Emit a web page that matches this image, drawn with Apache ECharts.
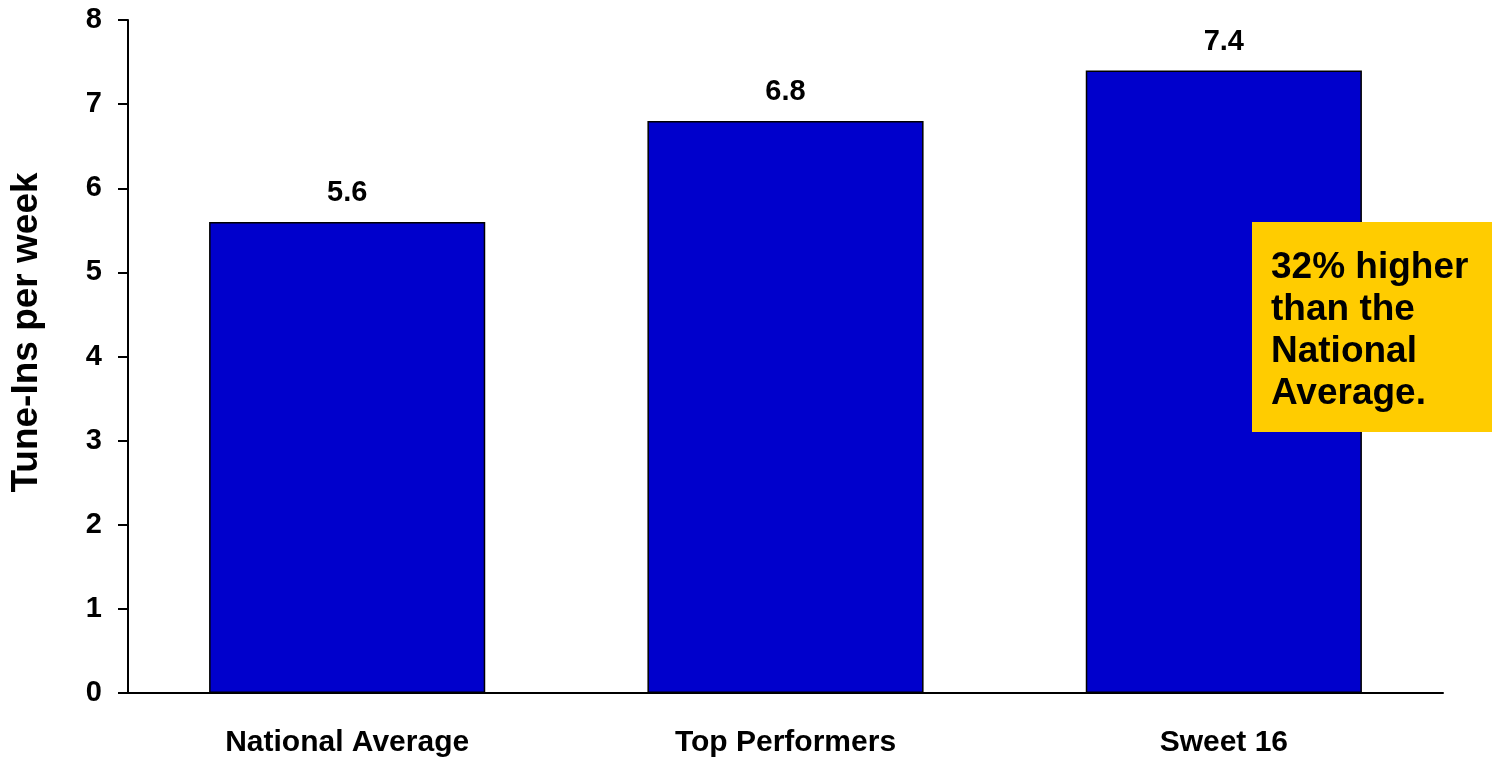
<!DOCTYPE html>
<html>
<head>
<meta charset="utf-8">
<script src="https://cdn.jsdelivr.net/npm/echarts@6/dist/echarts.min.js"></script>
<style>
  html, body { margin: 0; padding: 0; background: #fff; }
  #chart { width: 1492px; height: 759px; }
</style>
</head>
<body>
<div id="chart"></div>
<script>
const categories = ['National Average', 'Top Performers', 'Sweet 16'];
const tuneIns = [5.6, 6.8, 7.4];
const yTicks = [0, 1, 2, 3, 4, 5, 6, 7, 8];
const calloutLines = ['32% higher', 'than the', 'National', 'Average.'];

const FONT = '"Liberation Sans", Arial, sans-serif';

const chart = echarts.init(document.getElementById('chart'));
chart.setOption({
  animation: false,
  grid: { left: 127, right: 49, top: 20, bottom: 66 },
  xAxis: {
    type: 'category',
    data: categories,
    axisLine: { lineStyle: { color: '#000', width: 2 } },
    axisTick: { show: false },
    axisLabel: { color: '#000', fontFamily: FONT, fontWeight: 'bold', fontSize: 30, margin: 35 }
  },
  yAxis: {
    type: 'value',
    min: yTicks[0],
    max: yTicks[yTicks.length - 1],
    interval: 1,
    name: 'Tune-Ins per week',
    nameLocation: 'middle',
    nameGap: 83,
    nameTextStyle: {
      color: '#000', fontFamily: FONT, fontWeight: 'bold', fontSize: 37,
      padding: [0, 0, 0, 48]
    },
    axisLine: { show: true, lineStyle: { color: '#000', width: 2 } },
    axisTick: { show: true, length: 10, lineStyle: { color: '#000', width: 2 } },
    splitLine: { show: false },
    axisLabel: { color: '#000', fontFamily: FONT, fontWeight: 'bold', fontSize: 29, margin: 26 }
  },
  series: [{
    type: 'bar',
    data: tuneIns,
    barWidth: '63%',
    itemStyle: { color: '#0000CC', borderColor: '#000', borderWidth: 1.5 },
    label: {
      show: true,
      position: 'top',
      distance: 14,
      color: '#000',
      fontFamily: FONT,
      fontWeight: 'bold',
      fontSize: 29,
      formatter: p => p.value.toFixed(1)
    }
  }],
  graphic: [{
    type: 'group',
    left: 1252,
    top: 222,
    z: 100,
    children: [
      { type: 'rect', z: 100, shape: { x: 0, y: 0, width: 240, height: 210 }, style: { fill: '#FFCC00' } },
      {
        type: 'text',
        z: 101,
        x: 19,
        y: 25,
        style: {
          text: calloutLines.join('\n'),
          fill: '#000',
          font: 'bold 37px ' + FONT,
          lineHeight: 42
        }
      }
    ]
  }]
});
</script>
</body>
</html>
